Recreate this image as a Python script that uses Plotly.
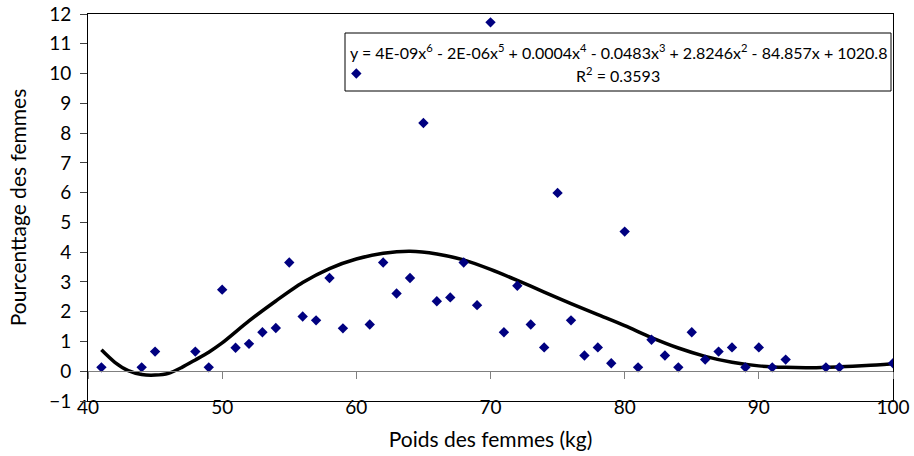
import plotly.graph_objects as go

# Data
poids = [41, 44, 45, 48, 49, 50, 51, 52, 53, 54, 55, 56, 57, 58, 59, 60, 61, 62, 63, 64,
         65, 66, 67, 68, 69, 70, 71, 72, 73, 74, 75, 76, 77, 78, 79, 80, 81, 82, 83, 84,
         85, 86, 87, 88, 89, 90, 91, 92, 95, 96, 100]
pourcentage = [0.13, 0.13, 0.66, 0.66, 0.13, 2.74, 0.79, 0.92, 1.31, 1.45, 3.65, 1.84, 1.71, 3.13, 1.44,
               10.0, 1.57, 3.65, 2.61, 3.13, 8.34, 2.35, 2.48, 3.65, 2.22, 11.72, 1.31, 2.87, 1.57, 0.80,
               5.99, 1.71, 0.53, 0.80, 0.27, 4.69, 0.13, 1.06, 0.53, 0.13, 1.31, 0.39, 0.66, 0.80, 0.13,
               0.80, 0.13, 0.39, 0.13, 0.13, 0.27]

# Polynomial (order 6) trendline
tendance_x = [41, 42, 43, 44, 45, 46, 47, 48, 49, 50, 52, 54, 56, 58, 60, 62, 64, 66, 68, 70,
              72, 74, 76, 78, 80, 82, 84, 86, 88, 90, 92, 94, 96, 98, 100]
tendance_y = [0.72, 0.30, 0.02, -0.11, -0.13, -0.07, 0.13, 0.38, 0.64, 0.95, 1.69, 2.36, 2.98, 3.45,
              3.77, 3.96, 4.03, 3.94, 3.74, 3.42, 3.05, 2.66, 2.27, 1.90, 1.53, 1.13, 0.78, 0.50,
              0.30, 0.18, 0.13, 0.12, 0.15, 0.19, 0.25]

x_ticks = [40, 50, 60, 70, 80, 90, 100]
y_ticks = list(range(-1, 13))
equation = ("y = 4E-09x<sup>6</sup> - 2E-06x<sup>5</sup> + 0.0004x<sup>4</sup> - 0.0483x<sup>3</sup>"
            " + 2.8246x<sup>2</sup> - 84.857x + 1020.8")
r2_text = "R<sup>2</sup> = 0.3593"

FONT = "Lato, 'Open Sans', sans-serif"

fig = go.Figure()
fig.add_trace(go.Scatter(x=tendance_x, y=tendance_y, mode="lines",
                         line=dict(color="black", width=3.5, shape="spline", smoothing=0.8),
                         hoverinfo="skip"))
fig.add_trace(go.Scatter(x=poids, y=pourcentage, mode="markers",
                         marker=dict(symbol="diamond", size=8, color="#000080")))
# horizontal axis at y = 0 (ticks only), on an overlaid x axis
fig.add_trace(go.Scatter(x=[x_ticks[0], x_ticks[-1]], y=[0, 0], mode="lines",
                         line=dict(width=0), xaxis="x2", hoverinfo="skip"))

fig.update_layout(
    width=914, height=456,
    margin=dict(l=88, r=21, t=14, b=55),
    paper_bgcolor="white", plot_bgcolor="white",
    showlegend=False,
    font=dict(family=FONT, size=19, color="black"),
    xaxis=dict(range=[40, 100], tickvals=x_ticks, ticktext=[str(v) for v in x_ticks],
               showgrid=False, zeroline=False, showline=True, linecolor="black", linewidth=1,
               mirror=True, ticks="", ticklabelstandoff=-11, automargin=False,
               tickfont=dict(size=19),
               title=dict(text="Poids des femmes (kg)", standoff=15, font=dict(size=21))),
    xaxis2=dict(range=[40, 100], overlaying="x", anchor="free", position=1 / 13,
                tickvals=x_ticks, showticklabels=False, showgrid=False, zeroline=False,
                showline=True, linecolor="#808080", linewidth=1, ticks="outside",
                ticklen=7, tickcolor="#808080"),
    yaxis=dict(range=[-1, 12], tickvals=y_ticks, showgrid=False, zeroline=False,
               showline=True, linecolor="black", linewidth=1, mirror=True,
               ticks="outside", ticklen=7, tickcolor="#404040", automargin=False,
               tickfont=dict(size=19), ticklabelstandoff=5,
               title=dict(text="Pourcenttage des femmes", standoff=16, font=dict(size=21))),
    shapes=[dict(type="rect", xref="paper", yref="paper", layer="below",
                 x0=(345 - 88) / 805, x1=(891 - 88) / 805,
                 y0=(401 - 91) / 387, y1=(401 - 33) / 387,
                 line=dict(color="black", width=1), fillcolor="white")],
    annotations=[
        dict(xref="paper", yref="paper", x=(618 - 88) / 805, y=(401 - 51) / 387,
             text=equation, showarrow=False, font=dict(size=16, family=FONT),
             xanchor="center", yanchor="middle"),
        dict(xref="paper", yref="paper", x=(618 - 88) / 805, y=(401 - 74) / 387,
             text=r2_text, showarrow=False, font=dict(size=16, family=FONT),
             xanchor="center", yanchor="middle"),
    ],
)

fig.write_html("out.html")
